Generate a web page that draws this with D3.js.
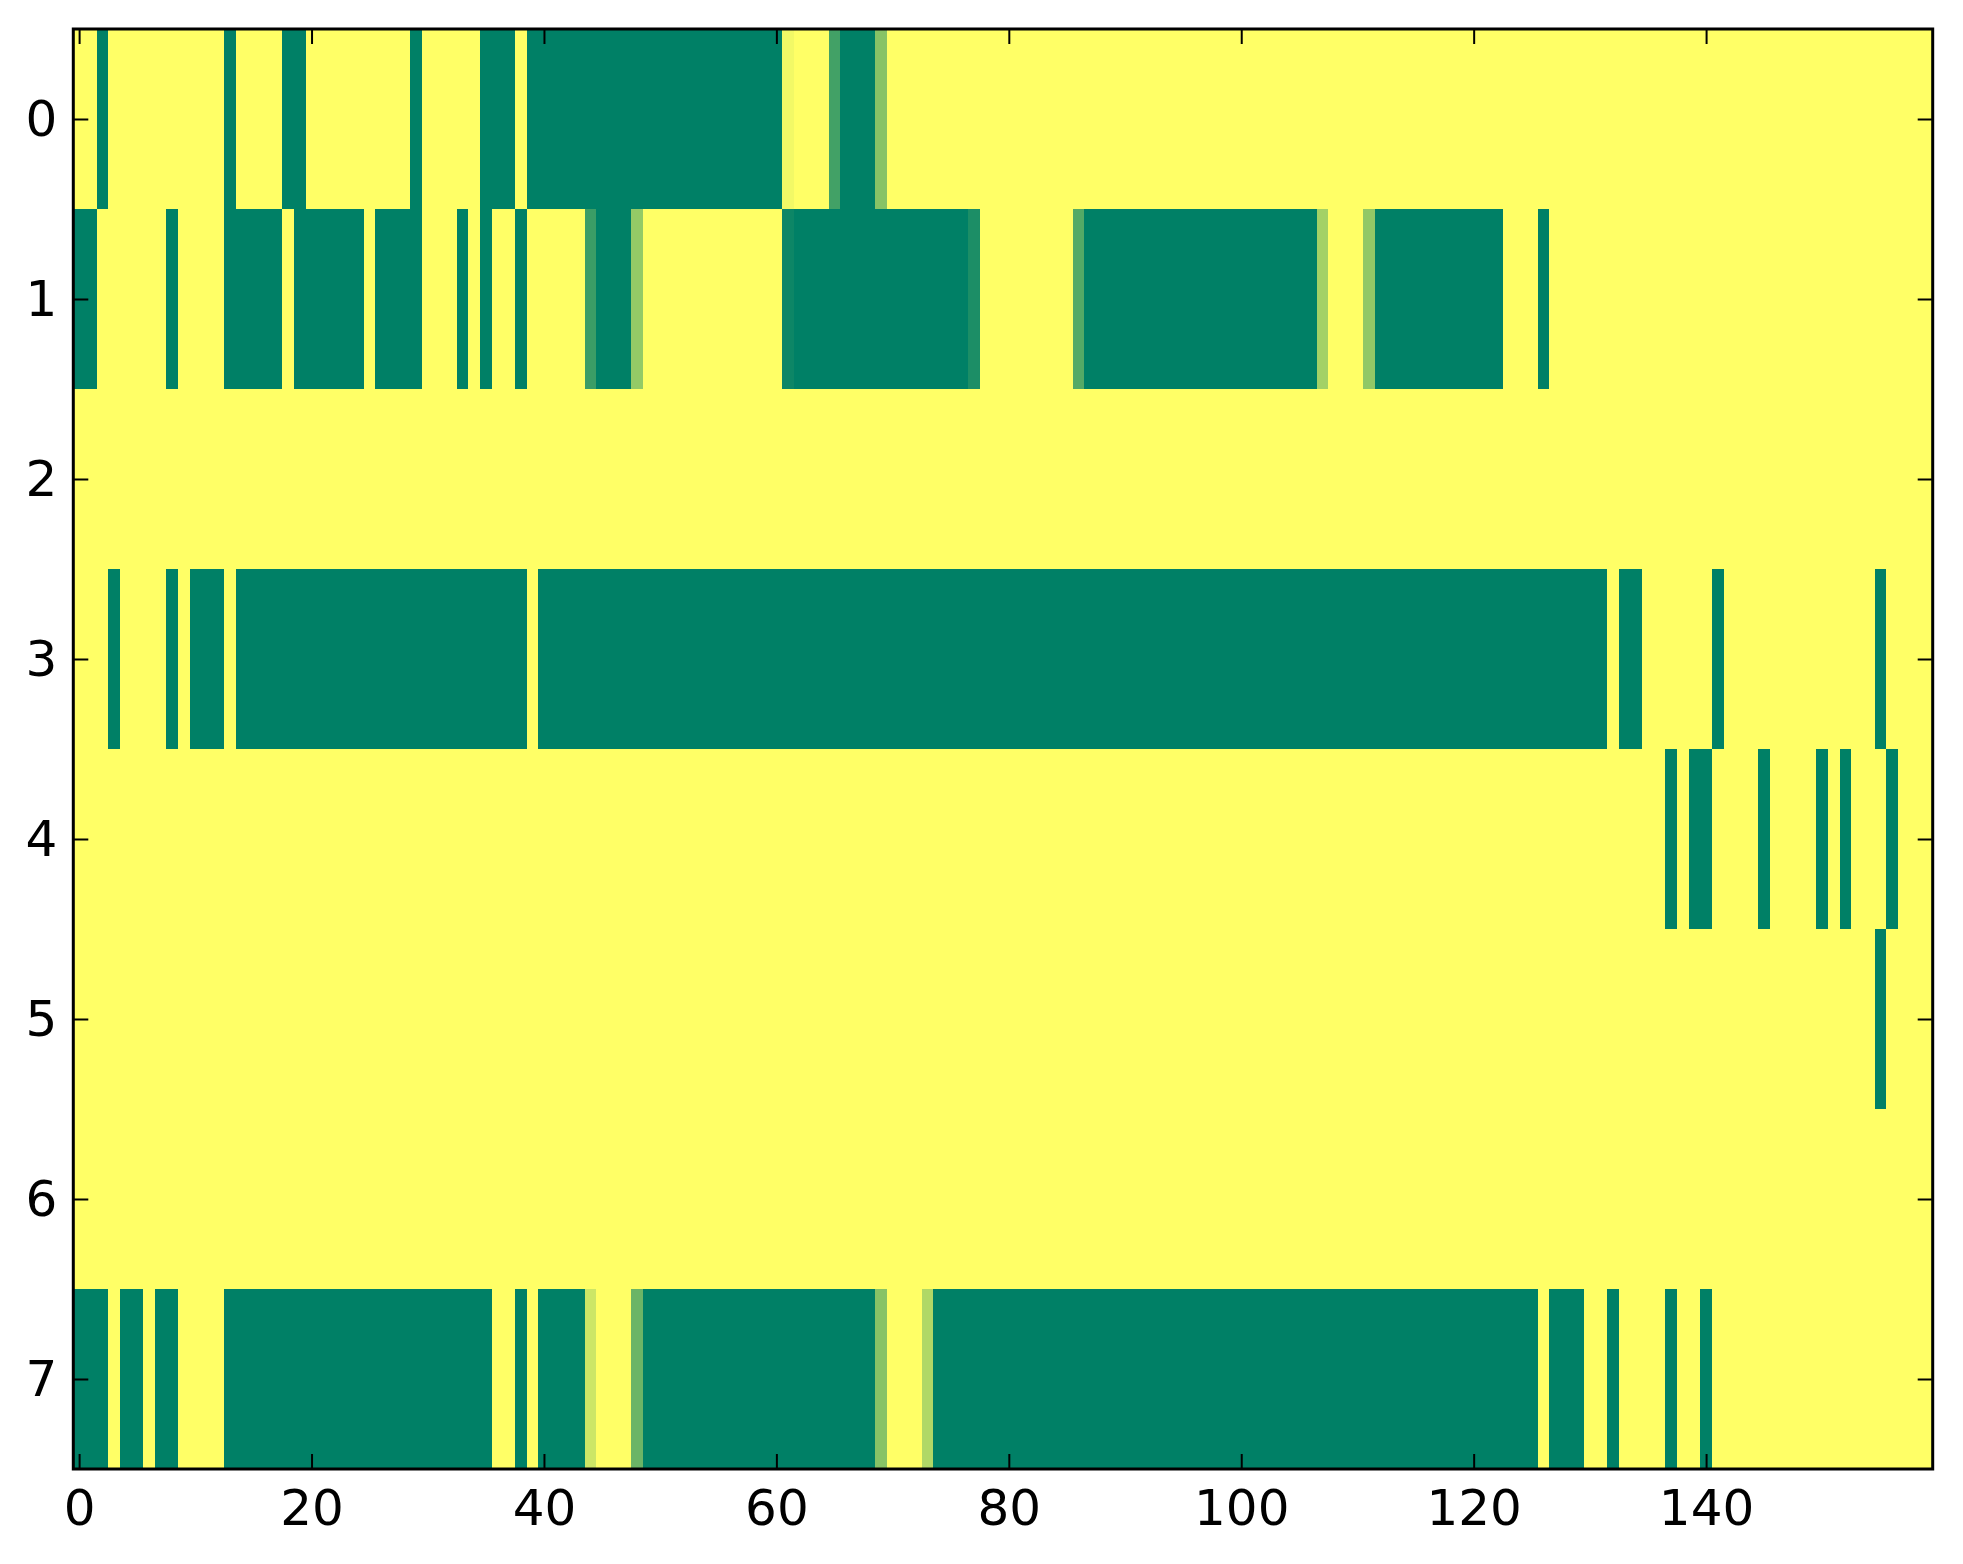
<!DOCTYPE html>
<html>
<head>
<meta charset="utf-8">
<script src="https://cdn.jsdelivr.net/npm/d3@7"></script>
<style>
  body { margin: 0; background: #fff; }
  .tick text { font-family: "DejaVu Sans", sans-serif; font-size: 50px; fill: #000; }
  .tick line { stroke: #000; stroke-width: 2; }
</style>
</head>
<body>
<svg id="chart" width="1963" height="1564"></svg>
<script>
// 8 rows x 160 columns, value 1 = yellow, 0 = green.
// Each row lists runs [from, to, value]; cells not listed are 1.
var nCols = 160;
var rowLabels = [0, 1, 2, 3, 4, 5, 6, 7];
var xTicks = [0, 20, 40, 60, 80, 100, 120, 140];

var row0 = [[2, 2, 0], [13, 13, 0], [18, 19, 0], [29, 29, 0], [35, 37, 0], [39, 60, 0],
            [61, 61, 0.95], [65, 65, 0.26], [66, 68, 0], [69, 69, 0.53]];
var row1 = [[0, 1, 0], [8, 8, 0], [13, 17, 0], [19, 24, 0], [26, 29, 0], [33, 33, 0],
            [35, 35, 0], [38, 38, 0], [44, 44, 0.23], [45, 47, 0], [48, 48, 0.58],
            [61, 61, 0.05], [62, 76, 0], [77, 77, 0.11], [86, 86, 0.33], [87, 106, 0],
            [107, 107, 0.64], [111, 111, 0.57], [112, 122, 0], [126, 126, 0]];
var row2 = [];
var row3 = [[3, 3, 0], [8, 8, 0], [10, 12, 0], [14, 38, 0], [40, 131, 0], [133, 134, 0],
            [141, 141, 0], [155, 155, 0]];
var row4 = [[137, 137, 0], [139, 140, 0], [145, 145, 0], [150, 150, 0], [152, 152, 0],
            [156, 156, 0]];
var row5 = [[155, 155, 0]];
var row6 = [];
var row7 = [[0, 2, 0], [4, 5, 0], [7, 8, 0], [13, 35, 0], [38, 38, 0], [40, 43, 0],
            [44, 44, 0.8], [48, 48, 0.42], [49, 68, 0], [69, 69, 0.53], [73, 73, 0.69],
            [74, 125, 0], [127, 129, 0], [132, 132, 0], [137, 137, 0], [140, 140, 0]];

var rows = [row0, row1, row2, row3, row4, row5, row6, row7];

// expand runs into a flat cell list
var cells = [];
rows.forEach(function(runs, r) {
  var vals = [];
  for (var c = 0; c < nCols; c++) vals.push(1);
  runs.forEach(function(run) {
    for (var c = run[0]; c <= run[1]; c++) vals[c] = run[2];
  });
  vals.forEach(function(v, c) { cells.push({row: r, col: c, value: v}); });
});

var svg = d3.select("#chart");
var margin = {top: 29, right: 30.3, bottom: 95, left: 73.3};
var width = +svg.attr("width") - margin.left - margin.right;
var height = +svg.attr("height") - margin.top - margin.bottom;
var g = svg.append("g").attr("transform", "translate(" + margin.left + "," + margin.top + ")");

var x = d3.scaleLinear().domain([-0.5, nCols - 0.5]).range([0, width]);
var y = d3.scaleLinear().domain([-0.5, rowLabels.length - 0.5]).range([0, height]);

// matplotlib "summer" colormap
var color = d3.scaleLinear().domain([0, 1]).range(["#008066", "#ffff66"]);

g.append("g")
    .attr("shape-rendering", "crispEdges")
  .selectAll("rect")
  .data(cells)
  .enter().append("rect")
    .attr("x", function(d) { return x(d.col - 0.5); })
    .attr("y", function(d) { return y(d.row - 0.5); })
    .attr("width", function(d) { return x(d.col + 0.5) - x(d.col - 0.5) + 0.5; })
    .attr("height", function(d) { return y(d.row + 0.5) - y(d.row - 0.5) + 0.5; })
    .attr("fill", function(d) { return color(d.value); });

// axes, ticks pointing inward on all four sides
g.append("g")
    .attr("transform", "translate(0," + height + ")")
    .call(d3.axisBottom(x).tickValues(xTicks).tickSizeInner(-15).tickSizeOuter(0).tickPadding(20));

g.append("g")
    .call(d3.axisTop(x).tickValues(xTicks).tickSizeInner(-15).tickSizeOuter(0).tickFormat(""));

g.append("g")
    .call(d3.axisLeft(y).tickValues(rowLabels).tickSizeInner(-15).tickSizeOuter(0).tickPadding(16));

g.append("g")
    .attr("transform", "translate(" + width + ",0)")
    .call(d3.axisRight(y).tickValues(rowLabels).tickSizeInner(-15).tickSizeOuter(0).tickFormat(""));

g.selectAll(".domain").remove();

g.append("rect")
    .attr("width", width)
    .attr("height", height)
    .attr("fill", "none")
    .attr("stroke", "#000")
    .attr("stroke-width", 3);
</script>
</body>
</html>
